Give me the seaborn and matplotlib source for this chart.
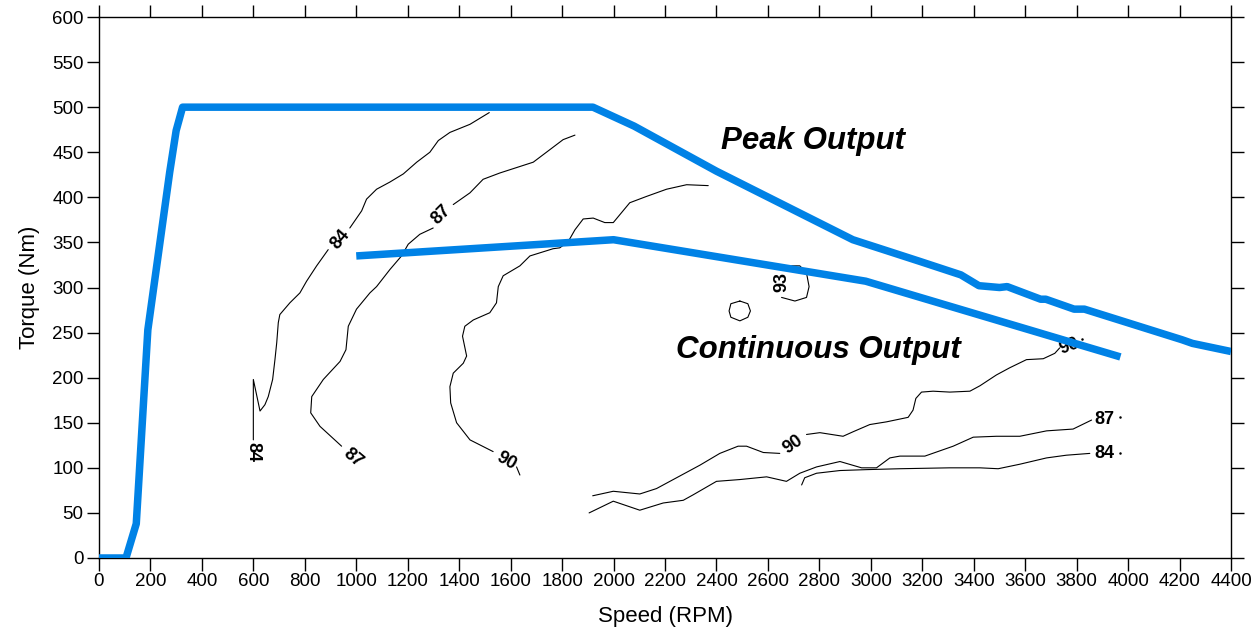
import numpy as np
import pandas as pd
import matplotlib
matplotlib.use("Agg")
import matplotlib.pyplot as plt
import seaborn as sns

# ---------------- data ----------------
peak_rpm = [0, 105, 145, 190, 275, 300, 325, 1920, 2080, 2400, 2930, 3190, 3350,
            3420, 3500, 3530, 3660, 3680, 3790, 3830, 4210, 4250, 4400]
peak_nm = [0, 0, 38, 253, 428, 474, 500, 500, 479, 429, 353, 329, 314,
           302, 300, 301, 287, 287, 276, 276, 242, 238, 229]

cont_rpm = [1000, 2000, 2980, 3970]
cont_nm = [335, 353, 307, 223]

# efficiency contour segments (rpm, Nm)
c84a_rpm = [1517, 1442, 1364, 1319, 1286, 1235, 1183, 1131, 1079, 1040, 1021, 975]
c84a_nm = [494, 481, 472, 463, 450, 439, 426, 417, 409, 398, 385, 366]
c84b_rpm = [891, 846, 807, 781, 742, 703, 697, 691, 684, 675, 658, 645, 626, 600, 600]
c84b_nm = [342, 324, 307, 294, 283, 270, 261, 239, 220, 198, 179, 170, 163, 198, 131]

c87a_rpm = [1850, 1804, 1753, 1688, 1558, 1493, 1442, 1377]
c87a_nm = [469, 464, 453, 439, 427, 420, 405, 392]
c87b_rpm = [1299, 1247, 1202, 1176, 1131, 1079, 1053, 1001, 969, 960, 937, 872, 827, 823, 859, 924, 943]
c87b_nm = [366, 359, 348, 335, 320, 301, 294, 276, 257, 231, 218, 198, 179, 161, 146, 129, 124]

c90a_rpm = [2368, 2284, 2206, 2128, 2063, 2031, 1999, 1966, 1921, 1882, 1850, 1824, 1791, 1765,
            1675, 1636, 1571, 1552, 1545, 1519, 1455, 1422, 1413, 1429, 1416, 1377, 1364, 1367,
            1390, 1442, 1532]
c90a_nm = [413, 414, 409, 401, 394, 383, 372, 372, 377, 376, 364, 351, 344, 343,
           335, 324, 313, 301, 283, 272, 264, 257, 246, 224, 216, 205, 190, 172,
           150, 131, 118]
c90b_rpm = [1623, 1636]
c90b_nm = [101, 92]

c90c_rpm = [1919, 1999, 2102, 2167, 2245, 2336, 2413, 2484, 2517, 2582, 2646]
c90c_nm = [69, 74, 71, 77, 89, 103, 116, 124, 124, 117, 116]
c90d_rpm = [2750, 2802, 2892, 2931, 2996, 3061, 3145, 3164, 3175, 3197, 3242, 3307, 3385,
            3424, 3488, 3540, 3605, 3670, 3715, 3734]
c90d_nm = [137, 139, 135, 140, 148, 151, 156, 164, 177, 184, 185, 184, 185,
           191, 203, 211, 220, 221, 227, 233]

c87c_rpm = [1905, 1999, 2102, 2193, 2271, 2309, 2400, 2491, 2595, 2672, 2724, 2789, 2880,
            2964, 3022, 3074, 3113, 3210, 3320, 3398, 3488, 3579, 3683, 3786, 3858]
c87c_nm = [50, 63, 53, 61, 64, 70, 85, 87, 90, 85, 94, 101, 107,
           100, 100, 111, 113, 113, 124, 134, 135, 135, 141, 143, 153]

c84c_rpm = [2731, 2743, 2789, 2880, 2983, 3113, 3307, 3424, 3495, 3579, 3683, 3760, 3851]
c84c_nm = [81, 89, 94, 97, 98, 99, 100, 100, 99, 104, 111, 114, 116]

c93a_rpm = [2491, 2522, 2532, 2522, 2491, 2456, 2449, 2456, 2491]
c93a_nm = [285, 282, 274, 267, 263, 267, 274, 282, 285]
c93b_rpm = [2692, 2724, 2750, 2760, 2750, 2705, 2653]
c93b_nm = [324, 324, 316, 301, 289, 285, 289]

# contour labels: text, rpm, Nm, rotation
lab_text = ["84", "84", "84", "87", "87", "87", "90", "90", "90", "93"]
lab_rpm = [937, 600, 3909, 1332, 987, 3909, 1584, 2698, 3773, 2653]
lab_nm = [353, 117, 116, 381, 111, 154, 107, 126, 235, 306]
lab_rot = [50, -90, 0, 45, -40, 0, -30, 35, 20, 90]

x_ticks = list(range(0, 4401, 200))
y_ticks = list(range(0, 601, 50))

# ---------------- plotting ----------------
sns.set_theme(style="ticks")
plt.rcParams["font.family"] = ["Liberation Sans", "DejaVu Sans"]
plt.rcParams["text.color"] = "black"
plt.rcParams["axes.labelcolor"] = "black"

fig = plt.figure(figsize=(12.59, 6.30), dpi=100)
ax = fig.add_axes([0.0786, 0.1143, 0.8992, 0.8587])

segments = [
    (c84a_rpm, c84a_nm), (c84b_rpm, c84b_nm),
    (c87a_rpm, c87a_nm), (c87b_rpm, c87b_nm),
    (c90a_rpm, c90a_nm), (c90b_rpm, c90b_nm),
    (c90c_rpm, c90c_nm), (c90d_rpm, c90d_nm),
    (c87c_rpm, c87c_nm), (c84c_rpm, c84c_nm),
    (c93a_rpm, c93a_nm), (c93b_rpm, c93b_nm),
]
rows = []
for i, (xs, ys) in enumerate(segments):
    for xv, yv in zip(xs, ys):
        rows.append({"seg": i, "rpm": xv, "nm": yv})
cdf = pd.DataFrame(rows)
sns.lineplot(data=cdf, x="rpm", y="nm", units="seg", estimator=None, sort=False,
             color="black", linewidth=0.8, ax=ax, zorder=2)

for t, xv, yv, r in zip(lab_text, lab_rpm, lab_nm, lab_rot):
    ax.text(xv, yv, t, rotation=r, ha="center", va="center", fontsize=13,
            fontweight="bold", color="black", zorder=2, rotation_mode="anchor")

# small dots at contour ends
ax.plot([3819, 3968, 3968], [243, 156, 116], ls="none", marker="o", ms=0.8, color="black")

bdf = pd.concat([
    pd.DataFrame({"rpm": peak_rpm, "nm": peak_nm, "curve": "Peak"}),
    pd.DataFrame({"rpm": cont_rpm, "nm": cont_nm, "curve": "Continuous"}),
])
sns.lineplot(data=bdf, x="rpm", y="nm", hue="curve", units="curve", estimator=None,
             sort=False, palette={"Peak": "#0082E6", "Continuous": "#0082E6"},
             linewidth=5.4, ax=ax, legend=False, zorder=3)
for line in ax.get_lines()[-2:]:
    line.set_solid_capstyle("butt")
    line.set_solid_joinstyle("round")

ax.text(2775, 463, "Peak Output", fontsize=22.5, fontweight="bold", style="italic",
        ha="center", va="center", color="black")
ax.text(2795, 231, "Continuous Output", fontsize=22.5, fontweight="bold", style="italic",
        ha="center", va="center", color="black")

ax.set_xlim(0, 4400)
ax.set_ylim(0, 600)
ax.set_xticks(x_ticks)
ax.set_yticks(y_ticks)
ax.tick_params(axis="both", which="both", direction="out", length=9, width=1,
               color="black", labelsize=13.5, labelcolor="black",
               top=True, right=True, labeltop=False, labelright=False, pad=2)
for s in ax.spines.values():
    s.set_visible(True)
    s.set_color("black")
    s.set_linewidth(1)
ax.set_xlabel("Speed (RPM)", fontsize=16, labelpad=11, color="black")
ax.set_ylabel("Torque (Nm)", fontsize=16, labelpad=9, color="black")
ax.grid(False)

fig.savefig("out.png", dpi=100, facecolor="white")
